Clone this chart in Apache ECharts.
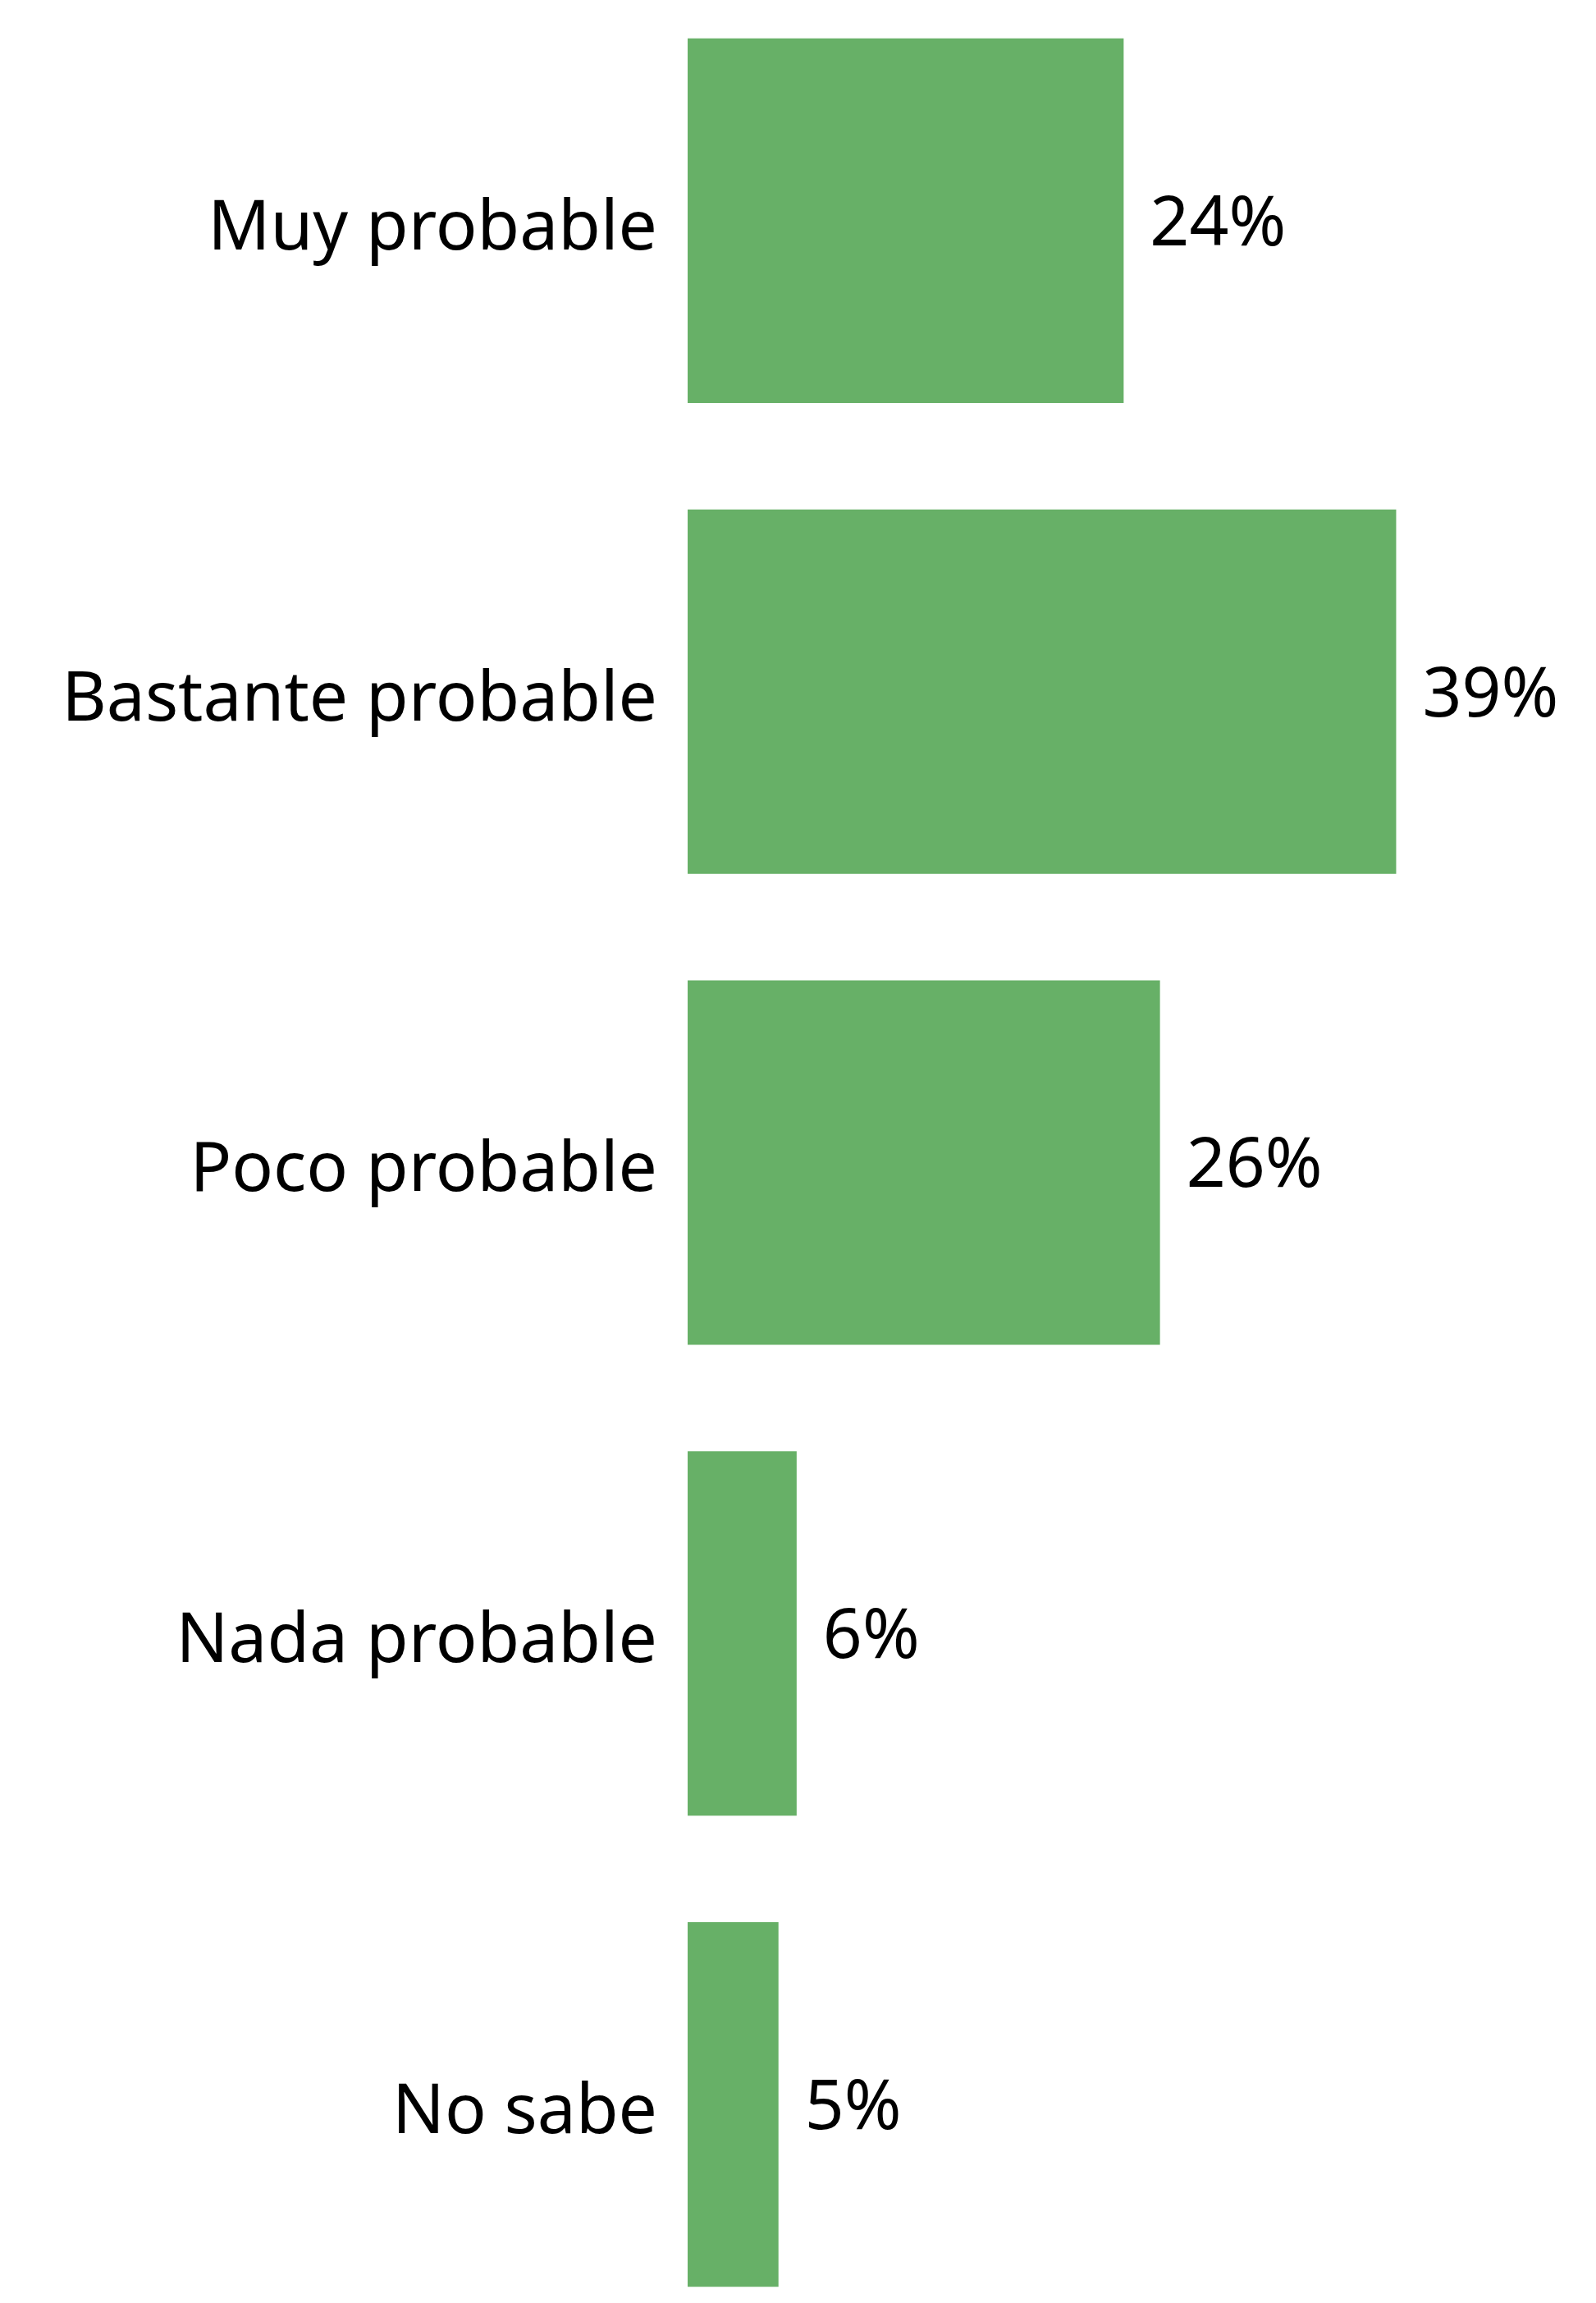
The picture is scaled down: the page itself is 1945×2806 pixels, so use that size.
<!DOCTYPE html>
<html>
<head>
<meta charset="utf-8">
<script src="https://cdn.jsdelivr.net/npm/echarts@6/dist/echarts.min.js"></script>
<style>
html,body{margin:0;padding:0;background:#fff;overflow:hidden;width:1945px;height:2806px}
#c{position:absolute;left:0;top:-18px;width:1945px;height:2869px}
</style>
</head>
<body>
<div id="c"></div>
<script>
const categories = ["Muy probable", "Bastante probable", "Poco probable", "Nada probable", "No sabe"];
const values = [24, 39, 26, 6, 5];

const FONT = '"Noto Sans", "Open Sans", sans-serif';
const chart = echarts.init(document.getElementById('c'), null, {renderer: 'canvas'});
chart.setOption({
  animation: false,
  backgroundColor: '#ffffff',
  grid: {left: 838, right: 0, top: 0, bottom: 0, containLabel: false},
  xAxis: {
    type: 'value', min: 0, max: 50, show: false
  },
  yAxis: {
    type: 'category', data: categories, inverse: true,
    axisLine: {show: false}, axisTick: {show: false}, splitLine: {show: false},
    axisLabel: {
      margin: 37, color: '#000000', fontSize: 84, fontFamily: FONT,
      formatter: v => '{a|' + v + '}',
      rich: {a: {fontSize: 84, fontFamily: FONT, color: '#000000', padding: [22, 0, 0, 0]}}
    }
  },
  series: [{
    type: 'bar', data: values, barCategoryGap: '22.6%',
    itemStyle: {color: '#67B067'},
    label: {
      show: true, position: 'right', distance: 32, offset: [0, 6],
      formatter: p => p.value + '%',
      color: '#000000', fontSize: 84, fontFamily: FONT
    }
  }]
});
</script>
</body>
</html>
